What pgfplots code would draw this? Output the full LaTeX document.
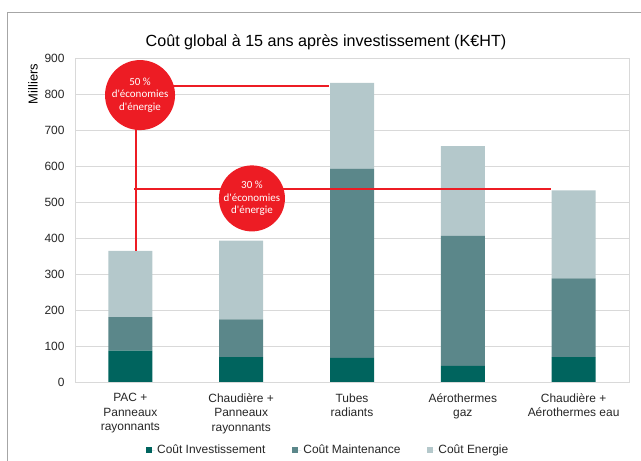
\documentclass[border=0pt]{standalone}
\usepackage{pgfplots}
\pgfplotsset{compat=1.18}
\usepackage{fontspec}
\setmainfont{Liberation Sans}
\newfontfamily\calibri{Carlito}
\definecolor{cinv}{HTML}{00645E}
\definecolor{cmai}{HTML}{5B878A}
\definecolor{cene}{HTML}{B4C8CB}
\definecolor{cred}{HTML}{ED1C24}
\definecolor{cgrid}{HTML}{D9D9D9}
\definecolor{cframe}{HTML}{A6A6A6}
\begin{document}
\begin{tikzpicture}
\useasboundingbox (0,0) rectangle (641bp,461bp);
\draw[cframe, line width=1bp] (7.5bp,0) -- (7.5bp,448.5bp) -- (641bp,448.5bp);
\node[font=\fontsize{16.2}{19}\selectfont] at (326bp,419bp) {Coût global à 15 ans après investissement (K€HT)};
\node[rotate=90, font=\fontsize{13}{15}\selectfont] at (33bp,377bp) {Milliers};
\begin{axis}[
  at={(75bp,79bp)}, anchor=south west,
  scale only axis, width=554bp, height=324bp,
  ybar stacked, bar width=44bp,
  xmin=-0.5, xmax=4.5, ymin=0, ymax=900,
  xtick={0,1,2,3,4},
  xticklabels={PAC +\\Panneaux\\rayonnants, Chaudière +\\Panneaux\\rayonnants, Tubes\\radiants, Aérothermes\\gaz, Chaudière +\\Aérothermes eau},
  ytick={0,100,...,900},
  ymajorgrids, grid style={cgrid, line width=0.8bp},
  axis line style={cgrid, line width=0.8bp},
  tick style={draw=none},
  /pgf/number format/assume math mode=true,
  ticklabel style={font=\fontsize{12}{14.5}\selectfont, text=black!85},
  xticklabel style={align=center, yshift=-8bp},
  yticklabel style={xshift=-7bp},
  legend style={at={(rel axis cs:0.457,-0.21)}, anchor=center, legend columns=3, draw=none,
    font=\fontsize{12}{14}\selectfont, text=black!85,
    /tikz/every even column/.append style={column sep=25bp}},
  legend image code/.code={\path (0bp,0bp) -- (9bp,0bp); \fill[#1] (0bp,-3bp) rectangle (6bp,3bp);},
]
\addplot[fill=cinv, draw=none] coordinates {(0,87) (1,69) (2,67) (3,45) (4,69)};
\addplot[fill=cmai, draw=none] coordinates {(0,93) (1,105) (2,526) (3,361) (4,219)};
\addplot[fill=cene, draw=none] coordinates {(0,184) (1,219) (2,238) (3,249) (4,244)};
\legend{Coût Investissement, Coût Maintenance, Coût Energie}
\coordinate (v0) at (axis cs:0.05,364);
\coordinate (v1) at (axis cs:0.05,797);
\coordinate (h1a) at (axis cs:0.087,822);
\coordinate (h1b) at (axis cs:1.79,822);
\coordinate (pp) at (axis cs:0.035,536);
\coordinate (qq) at (axis cs:3.8,536);
\coordinate (c1) at (axis cs:0.087,797);
\coordinate (c2) at (axis cs:1.097,510);
\end{axis}
\fill[cred] ([yshift=-0.8bp]pp) rectangle ([yshift=0.8bp]qq);
\draw[cred, line width=1.5bp] (v0) -- (v1);
\draw[cred, line width=1.5bp] (h1a) -- (h1b);
\fill[cred] (c1) circle[radius=35bp];
\fill[cred] (c2) circle[radius=33bp];
\node[text=white, align=center, font=\calibri\fontsize{11}{12.5}\selectfont] at (c1) {50 \%\\d'économies\\d'énergie};
\node[text=white, align=center, font=\calibri\fontsize{11}{12.5}\selectfont] at (c2) {30 \%\\d'économies\\d'énergie};
\end{tikzpicture}
\end{document}
